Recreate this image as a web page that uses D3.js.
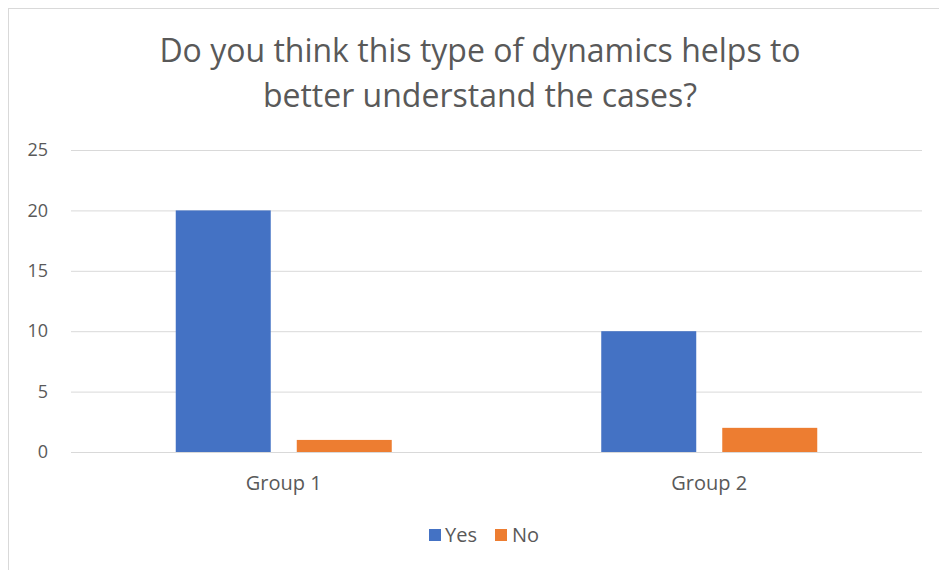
<!DOCTYPE html>
<html>
<head>
<meta charset="utf-8">
<script src="https://cdn.jsdelivr.net/npm/d3@7"></script>
<style>
  body { margin: 0; background: #fff; }
  text { font-family: "Open Sans", sans-serif; fill: #595959; }
</style>
</head>
<body>
<script>
// chart data
var groups = ["Group 1", "Group 2"];
var seriesNames = ["Yes", "No"];
var yesValues = [20, 10];
var noValues = [1, 2];
var yTicks = [0, 5, 10, 15, 20, 25];
var titleLines = ["Do you think this type of dynamics helps to", "better understand the cases?"];

var colors = { Yes: "#4472C4", No: "#ED7D31" };
var width = 939, height = 570;
var margin = { left: 71, right: 17, top: 150, bottom: 118 };

var svg = d3.select("body").append("svg")
  .attr("width", width)
  .attr("height", height);

// chart frame (only top/left edges are visible)
svg.append("rect")
  .attr("x", 8.5).attr("y", 8.5)
  .attr("width", 1000).attr("height", 1000)
  .attr("fill", "none")
  .attr("stroke", "#D9D9D9")
  .attr("stroke-width", 1);

// title
svg.append("g").selectAll("text")
  .data(titleLines)
  .enter().append("text")
  .attr("x", 480)
  .attr("y", function (d, i) { return 62 + i * 45; })
  .attr("text-anchor", "middle")
  .style("font-size", "32px")
  .text(function (d) { return d; });

var x0 = d3.scaleBand()
  .domain(groups)
  .range([margin.left, width - margin.right]);

var x1 = d3.scaleBand()
  .domain(seriesNames)
  .range([104.75, x0.bandwidth() - 104.75])
  .paddingInner(0.215);

var y = d3.scaleLinear()
  .domain([0, 25])
  .range([height - margin.bottom, margin.top]);

// gridlines + y labels
var yAxis = svg.append("g")
  .attr("transform", "translate(" + margin.left + ",0)")
  .call(d3.axisLeft(y)
    .tickValues(yTicks)
    .tickSize(-(width - margin.left - margin.right))
    .tickPadding(23));
yAxis.select(".domain").remove();
yAxis.selectAll("line").attr("stroke", "#D9D9D9");
yAxis.selectAll("text")
  .style("font-size", "18px")
  .attr("fill", "#595959");

// rows per group
var rows = groups.map(function (g, i) {
  return { group: g, values: [
    { key: "Yes", value: yesValues[i] },
    { key: "No", value: noValues[i] }
  ] };
});

svg.append("g").selectAll("g")
  .data(rows)
  .enter().append("g")
  .attr("transform", function (d) { return "translate(" + x0(d.group) + ",0)"; })
  .selectAll("rect")
  .data(function (d) { return d.values; })
  .enter().append("rect")
  .attr("x", function (d) { return x1(d.key); })
  .attr("y", function (d) { return y(d.value); })
  .attr("width", x1.bandwidth())
  .attr("height", function (d) { return y(0) - y(d.value); })
  .attr("fill", function (d) { return colors[d.key]; });

// x axis labels
var xAxis = svg.append("g")
  .attr("transform", "translate(0," + y(0) + ")")
  .call(d3.axisBottom(x0).tickSize(0));
xAxis.select(".domain").remove();
xAxis.selectAll("text")
  .attr("y", 38)
  .attr("dy", 0)
  .style("font-size", "20px")
  .attr("fill", "#595959");

// legend
var legendItems = [
  { key: "Yes", sx: 429, tx: 445 },
  { key: "No", sx: 495, tx: 512 }
];
var legend = svg.append("g");
legend.selectAll("rect")
  .data(legendItems)
  .enter().append("rect")
  .attr("x", function (d) { return d.sx; })
  .attr("y", 529)
  .attr("width", 12).attr("height", 12)
  .attr("fill", function (d) { return colors[d.key]; });
legend.selectAll("text")
  .data(legendItems)
  .enter().append("text")
  .attr("x", function (d) { return d.tx; })
  .attr("y", 542)
  .style("font-size", "20px")
  .text(function (d) { return d.key; });
</script>
</body>
</html>
